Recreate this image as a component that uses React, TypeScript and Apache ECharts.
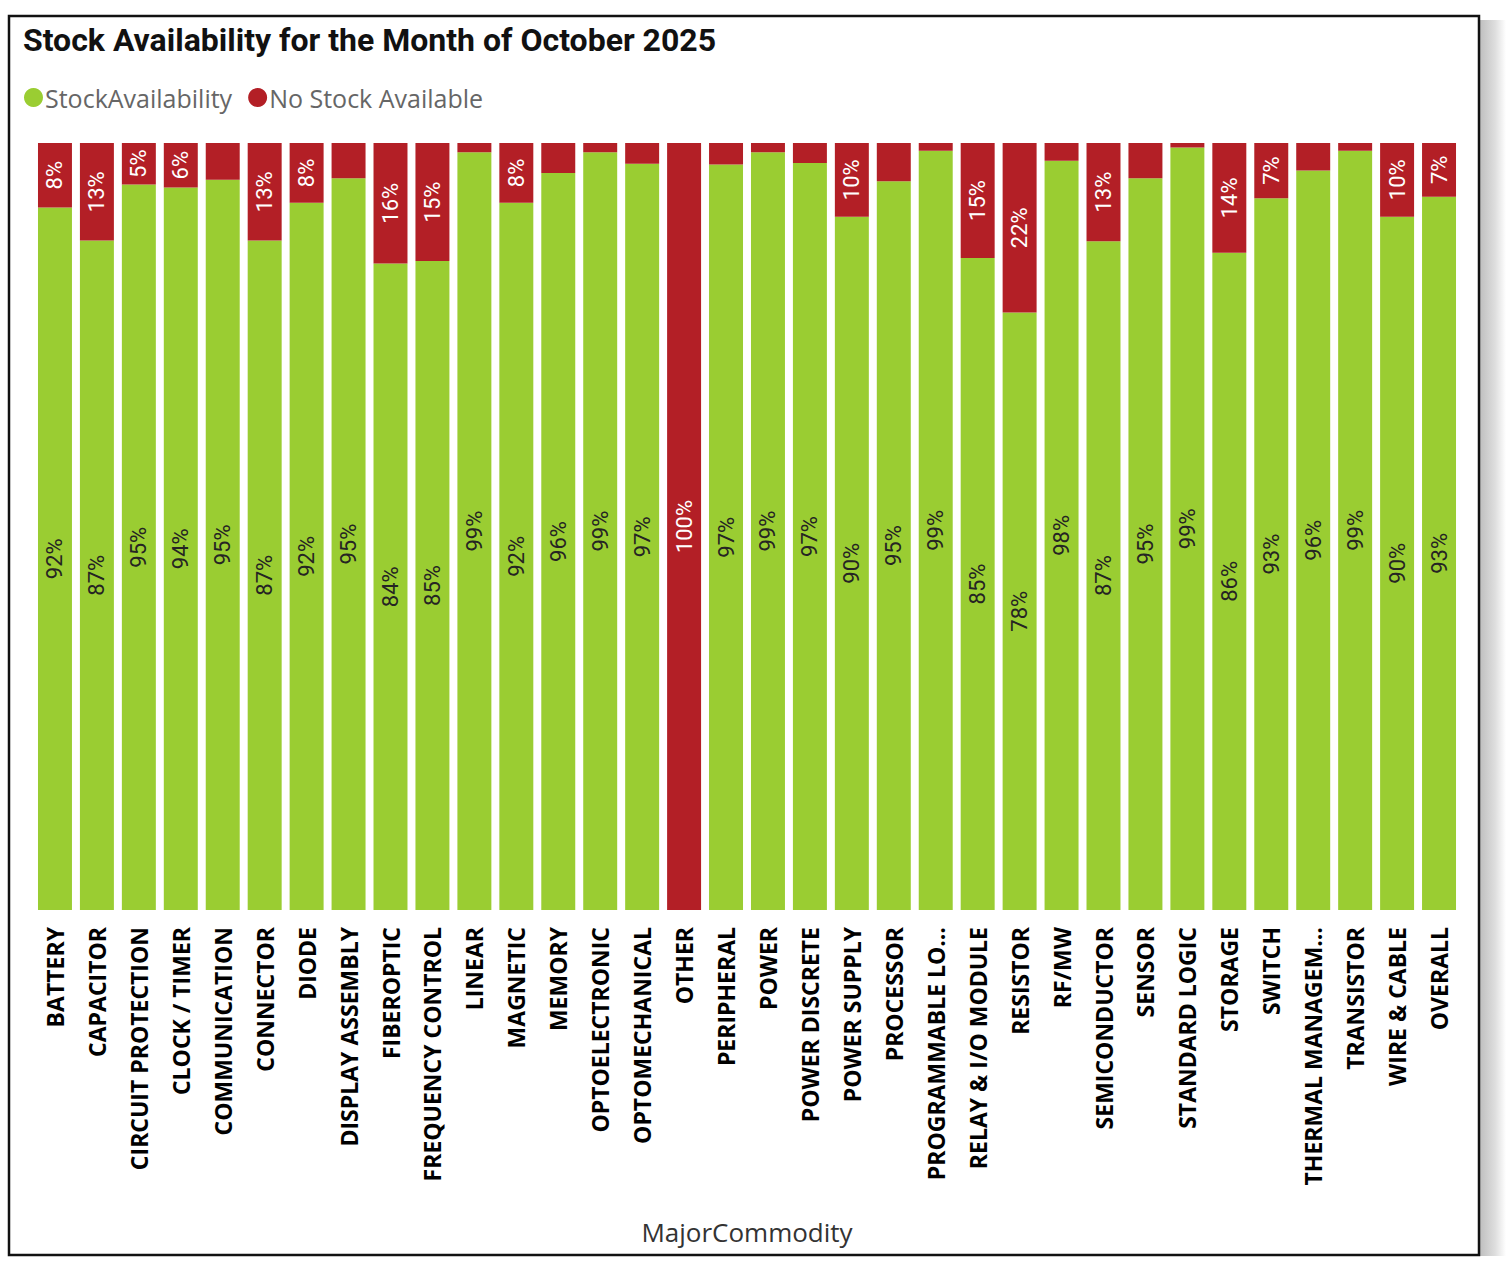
import React, { useEffect, useRef } from "react";
import * as echarts from "echarts";

const categories = [
  "BATTERY", "CAPACITOR", "CIRCUIT PROTECTION", "CLOCK / TIMER", "COMMUNICATION",
  "CONNECTOR", "DIODE", "DISPLAY ASSEMBLY", "FIBEROPTIC", "FREQUENCY CONTROL",
  "LINEAR", "MAGNETIC", "MEMORY", "OPTOELECTRONIC", "OPTOMECHANICAL", "OTHER",
  "PERIPHERAL", "POWER", "POWER DISCRETE", "POWER SUPPLY", "PROCESSOR",
  "PROGRAMMABLE LO…", "RELAY & I/O MODULE", "RESISTOR", "RF/MW", "SEMICONDUCTOR",
  "SENSOR", "STANDARD LOGIC", "STORAGE", "SWITCH", "THERMAL MANAGEM…",
  "TRANSISTOR", "WIRE & CABLE", "OVERALL",
];

const noStock = [
  8.4, 12.7, 5.4, 5.8, 4.8, 12.7, 7.8, 4.6, 15.7, 15.4,
  1.2, 7.8, 3.9, 1.2, 2.7, 100, 2.8, 1.2, 2.6, 9.6,
  5.0, 1.0, 15.0, 22.1, 2.3, 12.8, 4.6, 0.6, 14.3, 7.2,
  3.6, 1.0, 9.6, 7.0,
];

const stockAvail = noStock.map((v) => Math.round((100 - v) * 10) / 10);

const GREEN = "#9ACD32";
const RED = "#B31F26";

export default function App() {
  const ref = useRef<HTMLDivElement>(null);
  useEffect(() => {
    document.body.style.margin = "0";
    const chart = echarts.init(ref.current!, undefined, { renderer: "svg" });
    chart.setOption({
      animation: false,
      backgroundColor: "#ffffff",
      title: {
        text: "Stock Availability for the Month of October 2025",
        left: 18,
        top: 19,
        textStyle: {
          fontFamily: "Roboto",
          fontWeight: "bold",
          fontSize: 32,
          color: "#111111",
        },
      },
      legend: {
        left: 19,
        top: 80,
        icon: "circle",
        itemWidth: 19,
        itemHeight: 19,
        itemGap: 16,
        textStyle: {
          fontFamily: "Open Sans",
          fontSize: 25,
          color: "#666666",
          padding: [0, 0, 0, -3],
        },
        data: ["StockAvailability", "No Stock Available"],
      },
      grid: { left: 34, right: 46, top: 143, bottom: 360, containLabel: false },
      xAxis: {
        type: "category",
        data: categories,
        axisLine: { show: false },
        axisTick: { show: false },
        axisLabel: {
          interval: 0,
          rotate: 90,
          margin: 17,
          fontFamily: "Open Sans",
          fontWeight: "bold",
          fontSize: 23,
          color: "#000000",
        },
      },
      yAxis: {
        type: "value",
        min: 0,
        max: 100,
        show: false,
      },
      series: [
        {
          name: "StockAvailability",
          type: "bar",
          stack: "total",
          barCategoryGap: "19%",
          data: stockAvail,
          itemStyle: { color: GREEN },
          label: {
            show: true,
            position: "inside",
            rotate: 90,
            fontFamily: "Roboto",
            fontSize: 22,
            color: "#252423",
            formatter: (p: any) => (p.value > 0 ? Math.round(p.value) + "%" : ""),
          },
        },
        {
          name: "No Stock Available",
          type: "bar",
          stack: "total",
          data: noStock,
          itemStyle: { color: RED },
          label: {
            show: true,
            position: "inside",
            rotate: 90,
            fontFamily: "Roboto",
            fontSize: 22,
            color: "#ffffff",
            formatter: (p: any) => (p.value >= 5.2 ? Math.round(p.value) + "%" : ""),
          },
        },
      ],
      graphic: [
        {
          type: "rect",
          z: -10,
          shape: { x: 1479, y: 20, width: 27, height: 1236 },
          style: {
            fill: new echarts.graphic.LinearGradient(0, 0, 1, 0, [
              { offset: 0, color: "#bdbdbd" },
              { offset: 0.6, color: "#dedede" },
              { offset: 1, color: "#ffffff" },
            ]),
          },
          silent: true,
        },
        {
          type: "rect",
          z: -9,
          shape: { x: 9, y: 16, width: 1470, height: 1239 },
          style: { fill: "#ffffff", stroke: "#111111", lineWidth: 2.5 },
          silent: true,
        },
        {
          type: "text",
          x: 747,
          y: 1232,
          style: {
            text: "MajorCommodity",
            fontFamily: "Open Sans",
            fontSize: 26,
            fill: "#333333",
            align: "center",
            verticalAlign: "middle",
          },
          silent: true,
        },
      ],
    });
    return () => chart.dispose();
  }, []);
  return <div ref={ref} style={{ width: 1506, height: 1270 }} />;
}
